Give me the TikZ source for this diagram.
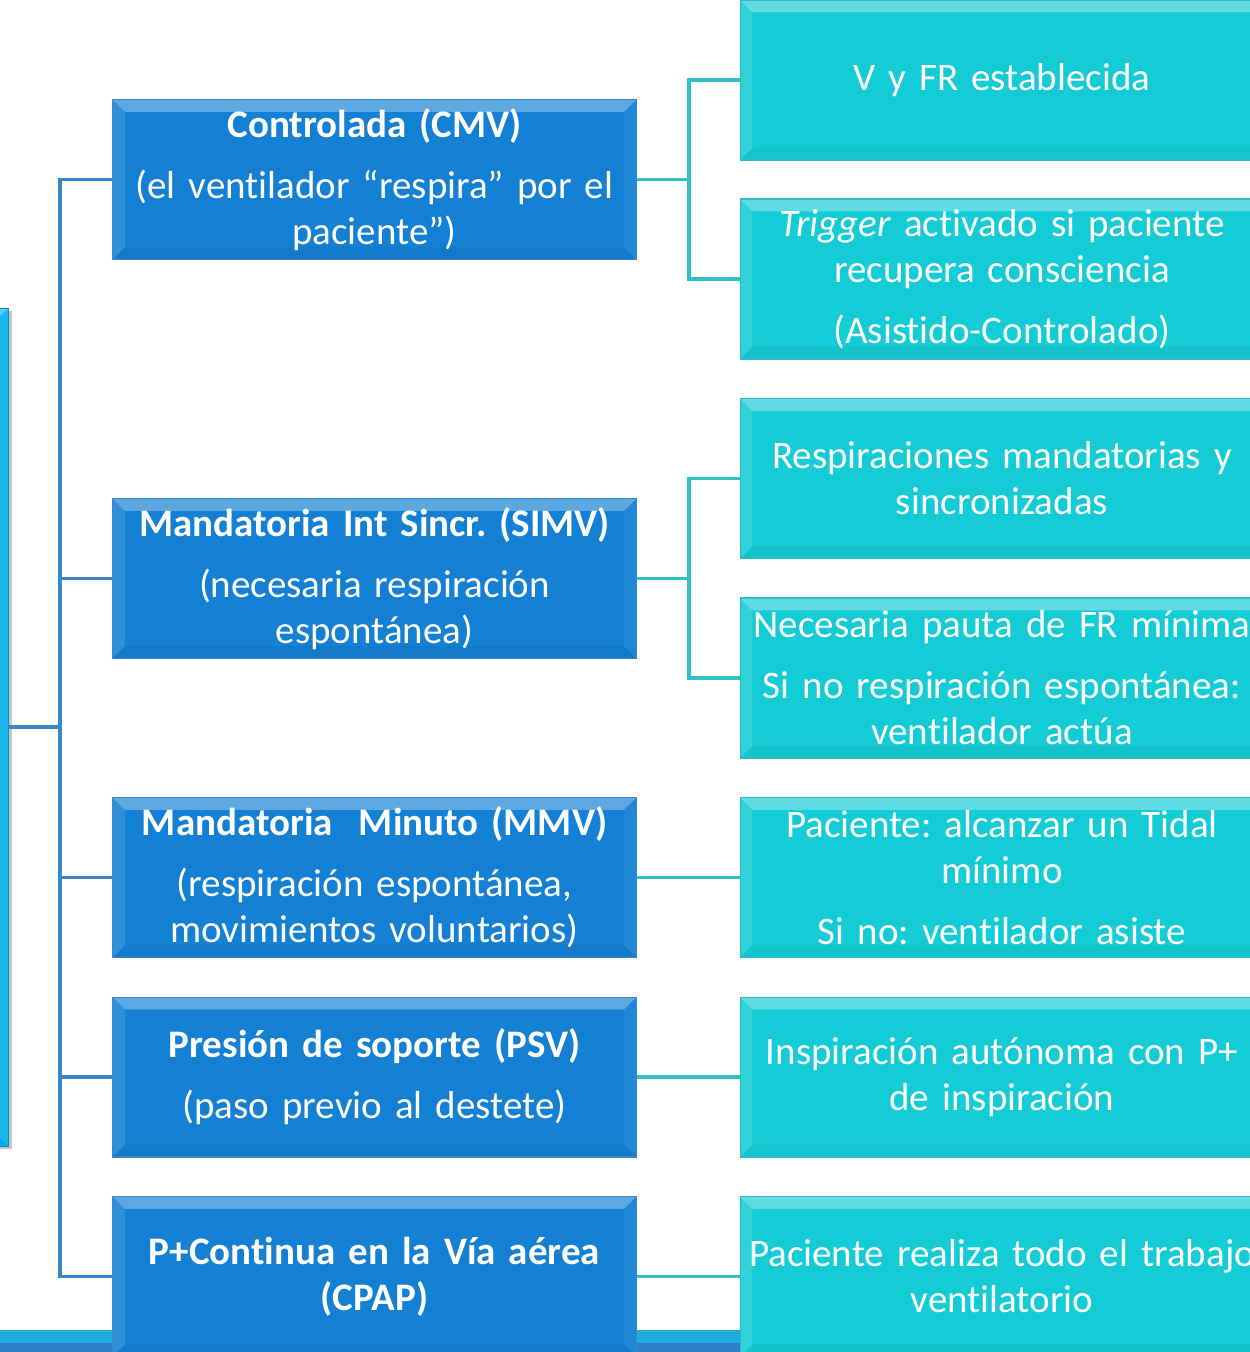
\documentclass[tikz,border=0pt]{standalone}
\usepackage{fontspec}
\setmainfont{Carlito}[WordSpace=0.75, Ligatures=NoCommon]
\frenchspacing
\usetikzlibrary{positioning,shadows}
\definecolor{modeblue}{HTML}{1380D3}
\definecolor{modeedge}{HTML}{3C86C8}
\definecolor{infoteal}{HTML}{14CCD6}
\definecolor{infoedge}{HTML}{2EBCC8}
\definecolor{rootcyan}{HTML}{0BB4EE}
\definecolor{treeline}{HTML}{3A86C6}
\definecolor{linkline}{HTML}{30C0C8}
\definecolor{barlight}{HTML}{1FAAE0}
\definecolor{bardark}{HTML}{2B80C6}
\newcommand{\bev}{7pt}
\tikzset{
  bevel/.style={path picture={
    \path (path picture bounding box.north west) coordinate (pp-nw)
          (path picture bounding box.north east) coordinate (pp-ne)
          (path picture bounding box.south west) coordinate (pp-sw)
          (path picture bounding box.south east) coordinate (pp-se);
    \fill[white, opacity=.32] (pp-nw) -- (pp-ne) -- ([shift={(-\bev,-\bev)}]pp-ne) -- ([shift={(\bev,-\bev)}]pp-nw) -- cycle;
    \fill[white, opacity=.12] (pp-nw) -- ([shift={(\bev,-\bev)}]pp-nw) -- ([shift={(\bev,\bev)}]pp-sw) -- (pp-sw) -- cycle;
    \fill[white, opacity=.06] (pp-ne) -- (pp-se) -- ([shift={(-\bev,\bev)}]pp-se) -- ([shift={(-\bev,-\bev)}]pp-ne) -- cycle;
    \fill[black, opacity=.04] (pp-sw) -- ([shift={(\bev,\bev)}]pp-sw) -- ([shift={(-\bev,\bev)}]pp-se) -- (pp-se) -- cycle;
  }},
  mode/.style={rectangle, fill=modeblue, draw=modeedge, line width=0.6pt, bevel,
    minimum width=10.48cm, minimum height=3.2cm, text width=10.4cm, inner sep=0pt,
    align=center, text=white, font=\fontsize{22.2}{26.2}\selectfont},
  info/.style={mode, fill=infoteal, draw=infoedge},
  rootbox/.style={rectangle, fill=rootcyan, draw=rootcyan!80!black, line width=0.4pt, bevel,
    minimum width=10.56cm, minimum height=16.76cm,
    drop shadow={shadow xshift=2.5pt, shadow yshift=-1.5pt, opacity=.45}},
  tree/.style={draw=treeline, line width=2pt},
  link/.style={draw=linkline, line width=2pt},
}

\begin{document}
\begin{tikzpicture}[x=0.02cm, y=-0.02cm]
\useasboundingbox (0,0) rectangle (1250,1352);
\fill[barlight] (0,1330) rectangle (1250,1343);
\fill[bardark] (0,1343) rectangle (1250,1352);

\node[rootbox] (root) at (-256,727) {};

\node[mode] (cmv) at (374.5,179.5) {\textbf{Controlada (CMV)}\\[0.3cm](el ventilador “respira” por el\\paciente”)};
\node[mode] (simv) at (374.5,578.5) {\textbf{Mandatoria Int Sincr. (SIMV)}\\[0.3cm](necesaria respiración\\espontánea)};
\node[mode] (mmv) at (374.5,877.5) {\textbf{Mandatoria\ \ Minuto (MMV)}\\[0.3cm](respiración espontánea,\\movimientos voluntarios)};
\node[mode] (psv) at (374.5,1077) {\textbf{Presión de soporte (PSV)}\\[0.3cm](paso previo al destete)};
\node[mode] (cpap) at (374.5,1276.5) {\textbf{P+Continua en la Vía aérea}\\\textbf{(CPAP)}};

\node[info] (vfr) at (1002,80) {V y FR establecida};
\node[info] (trig) at (1002,279) {\textit{Trigger} activado si paciente\\recupera consciencia\\[0.3cm](Asistido-Controlado)};
\node[info] (sinc) at (1002,478.5) {Respiraciones mandatorias y\\sincronizadas};
\node[info] (frmin) at (1002,678) {Necesaria pauta de FR mínima\\[0.3cm]Si no respiración espontánea:\\ventilador actúa};
\node[info] (tidal) at (1002,877.5) {Paciente: alcanzar un Tidal\\mínimo\\[0.3cm]Si no: ventilador asiste};
\node[info] (insp) at (1002,1077) {Inspiración autónoma con P+\\de inspiración};
\node[info] (trab) at (1002,1276.5) {Paciente realiza todo el trabajo\\ventilatorio};

\draw[tree] (root.east) -- ++(53,0);
\draw[tree] (cmv.west) -- ++(-52,0) |- (cpap.west);
\foreach \m in {simv,mmv,psv}
  \draw[tree] (\m.west) -- ++(-52,0);

\draw[link] (cmv.east) -- ++(52,0) coordinate (cmvfork);
\draw[link] (vfr.west) -| (cmvfork) |- (trig.west);
\draw[link] (simv.east) -- ++(52,0) coordinate (simvfork);
\draw[link] (sinc.west) -| (simvfork) |- (frmin.west);
\draw[link] (mmv.east) -- (tidal.west);
\draw[link] (psv.east) -- (insp.west);
\draw[link] (cpap.east) -- (trab.west);
\end{tikzpicture}
\end{document}
